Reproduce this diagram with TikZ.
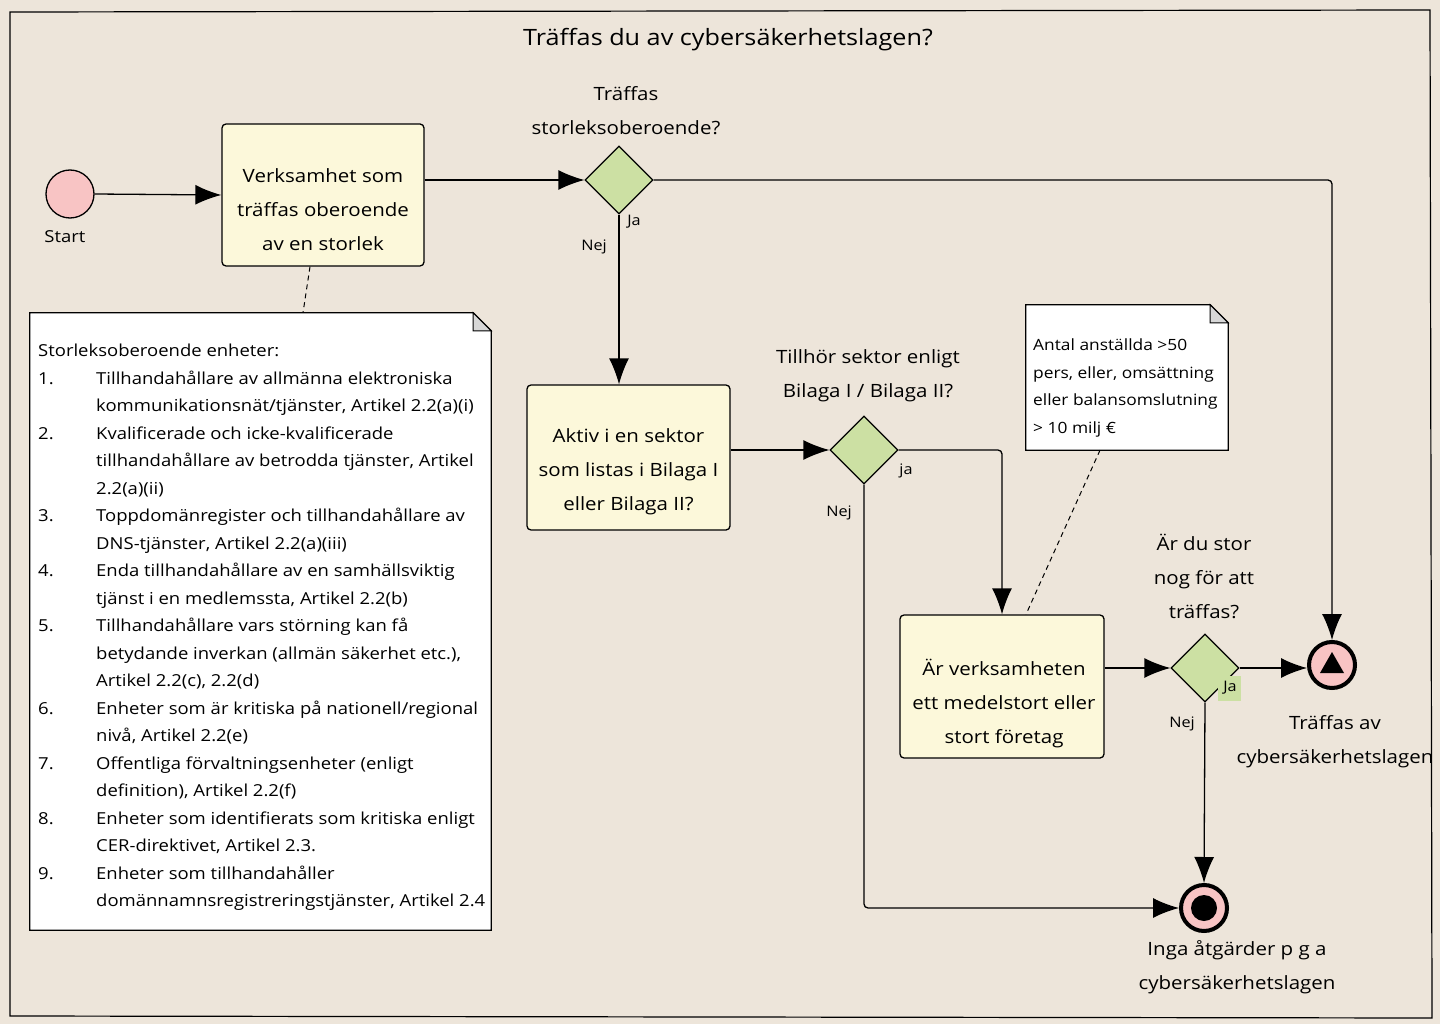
\documentclass[tikz,border=0pt]{standalone}
\usepackage{fontspec}
\setmainfont{Open Sans}[FakeStretch=1.12]
\usetikzlibrary{arrows.meta,shapes.geometric,calc}
\definecolor{bgc}{RGB}{237,229,218}
\definecolor{boxc}{RGB}{252,248,218}
\definecolor{dia}{RGB}{204,224,163}
\definecolor{pinkc}{RGB}{248,196,196}
\definecolor{foldc}{RGB}{215,215,215}
\newcommand\itm[1]{\makebox[58pt][l]{#1}}
\newcommand\cnt{\hspace*{58pt}}
\begin{document}
\begin{tikzpicture}[x=1pt,y=-1pt,
  task/.style={draw,line width=1.3pt,fill=boxc,rounded corners=4pt,inner sep=0pt},
  gate/.style={draw,line width=1.2pt,fill=dia,diamond,minimum width=68pt,minimum height=68pt,inner sep=0pt},
  arr/.style={line width=1.3pt,-{Latex[length=26pt,width=20pt]},rounded corners=4pt},
  lbl/.style={font=\fontsize{18.3}{34}\selectfont,align=center,inner sep=0pt},
  small/.style={font=\fontsize{14.5}{18}\selectfont,inner sep=0pt},
  assoc/.style={line width=1pt,dashed,dash pattern=on 5pt off 4pt},
  notebox/.style={inner sep=0pt}
]
\useasboundingbox (0,0) rectangle (1440,1024);
\fill[bgc] (0,0) rectangle (1440,1024);
\draw[line width=1.2pt] (10,12) -- (1430,10) -- (1432,1018) -- (10,1016) -- cycle;

\node[font=\fontsize{22.5}{26}\selectfont,inner sep=0pt] (title) at (728,40) {Träffas du av cybersäkerhetslagen?};

% start
\node[circle,draw,line width=1.3pt,fill=pinkc,minimum size=48pt,inner sep=0pt] (start) at (70,194) {};
\node[inner sep=0pt,font=\fontsize{16.5}{18}\selectfont] (startl) at (65,237) {Start};

% tasks
\node[task,minimum width=202pt,minimum height=142pt] (b1) at (323,195) {};
\node[lbl] (b1t) at (323,210) {Verksamhet som\\träffas oberoende\\av en storlek};
\node[task,minimum width=203pt,minimum height=145pt] (b2) at (628.5,457.5) {};
\node[lbl] (b2t) at (628.5,472) {Aktiv i en sektor\\som listas i Bilaga I\\eller Bilaga II?};
\node[task,minimum width=204pt,minimum height=143pt] (b3) at (1002,686.5) {};
\node[lbl] (b3t) at (1004,704) {Är verksamheten\\ett medelstort eller\\stort företag};

% gateways
\node[gate] (d1) at (619,180) {};
\node[gate] (d2) at (864,450) {};
\node[gate] (d3) at (1205,668) {};
\node[lbl] (d1l) at (626,111) {Träffas\\storleksoberoende?};
\node[lbl] (d2l) at (868,376) {Tillhör sektor enligt\\Bilaga I / Bilaga II?};
\node[lbl] (d3l) at (1204,576) {Är du stor\\nog för att\\träffas?};

\node[small] (ja1) at (634,222) {Ja};
\node[small] (nej1) at (594,247) {Nej};
\node[small] (ja2) at (906,471) {ja};
\node[small] (nej2) at (839,513) {Nej};
\fill[dia] (1218,676) rectangle (1241,701);
\node[small] (ja3) at (1230,688) {Ja};
\node[small] (nej3) at (1182,724) {Nej};

% end events
\node[circle,draw,line width=4pt,fill=pinkc,minimum size=46pt,inner sep=0pt] (e1) at (1332,665) {};
\fill (e1.center) ++(0,-13) -- ++(12,21) -- ++(-24,0) -- cycle;
\node[circle,draw,line width=4pt,fill=pinkc,minimum size=46pt,inner sep=0pt] (e2) at (1204,908) {};
\fill (e2.center) circle (13pt);
\node[lbl] (e1l) at (1335,742) {Träffas av\\cybersäkerhetslagen};
\node[lbl] (e2l) at (1237,967) {Inga åtgärder p g a\\cybersäkerhetslagen};

% notes
\node[notebox,minimum width=461pt,minimum height=617pt] (n1) at (260.5,621.5) {};
\draw[line width=1.3pt,fill=white] (n1.north west) -- ($(n1.north east)+(-18,0)$) -- ($(n1.north east)+(0,18)$) -- (n1.south east) -- (n1.south west) -- cycle;
\filldraw[line width=1pt,fill=foldc] ($(n1.north east)+(-18,0)$) -- ($(n1.north east)+(-18,18)$) -- ($(n1.north east)+(0,18)$) -- cycle;
\node[anchor=north west,inner sep=0pt,align=left,font=\fontsize{16.5}{27.5}\selectfont] (n1t) at (38,344) {%
Storleksoberoende enheter:\\
\itm{1.}Tillhandahållare av allmänna elektroniska\\
\cnt kommunikationsnät/tjänster, Artikel 2.2(a)(i)\\
\itm{2.}Kvalificerade och icke-kvalificerade\\
\cnt tillhandahållare av betrodda tjänster, Artikel\\
\cnt 2.2(a)(ii)\\
\itm{3.}Toppdomänregister och tillhandahållare av\\
\cnt DNS-tjänster, Artikel 2.2(a)(iii)\\
\itm{4.}Enda tillhandahållare av en samhällsviktig\\
\cnt tjänst i en medlemssta, Artikel 2.2(b)\\
\itm{5.}Tillhandahållare vars störning kan få\\
\cnt betydande inverkan (allmän säkerhet etc.),\\
\cnt Artikel 2.2(c), 2.2(d)\\
\itm{6.}Enheter som är kritiska på nationell/regional\\
\cnt nivå, Artikel 2.2(e)\\
\itm{7.}Offentliga förvaltningsenheter (enligt\\
\cnt definition), Artikel 2.2(f)\\
\itm{8.}Enheter som identifierats som kritiska enligt\\
\cnt CER-direktivet, Artikel 2.3.\\
\itm{9.}Enheter som tillhandahåller\\
\cnt domännamnsregistreringstjänster, Artikel 2.4};

\node[notebox,minimum width=202pt,minimum height=145pt] (n2) at (1127,377.5) {};
\draw[line width=1.3pt,fill=white] (n2.north west) -- ($(n2.north east)+(-18,0)$) -- ($(n2.north east)+(0,18)$) -- (n2.south east) -- (n2.south west) -- cycle;
\filldraw[line width=1pt,fill=foldc] ($(n2.north east)+(-18,0)$) -- ($(n2.north east)+(-18,18)$) -- ($(n2.north east)+(0,18)$) -- cycle;
\node[anchor=north west,inner sep=0pt,align=left,font=\fontsize{15.5}{27.5}\selectfont] (n2t) at (1033,339) {%
Antal anställda >50\\
pers, eller, omsättning\\
eller balansomslutning\\
> 10 milj €};

% associations
\draw[assoc] ($(b1.south)+(-13,0)$) -- ($(n1.north)+(42.5,0)$);
\draw[assoc] ($(n2.south)+(-27,0)$) -- ($(b3.north)+(24,0)$);

% flows
\draw[arr] (start.east) -- (b1.west);
\draw[arr] (b1.east |- d1.west) -- (d1.west);
\draw[arr] (d1.east) -| (e1.north);
\draw[arr] (d1.south) -- (d1.south |- b2.north);
\draw[arr] (b2.east |- d2.west) -- (d2.west);
\draw[arr] (d2.east) -| (b3.north);
\draw[arr] (d2.south) |- (e2.west);
\draw[arr] (b3.east |- d3.west) -- (d3.west);
\draw[arr] (d3.east) -- (e1.west |- d3.east);
\draw[arr] (d3.south) -- (e2.north);
\end{tikzpicture}
\end{document}
